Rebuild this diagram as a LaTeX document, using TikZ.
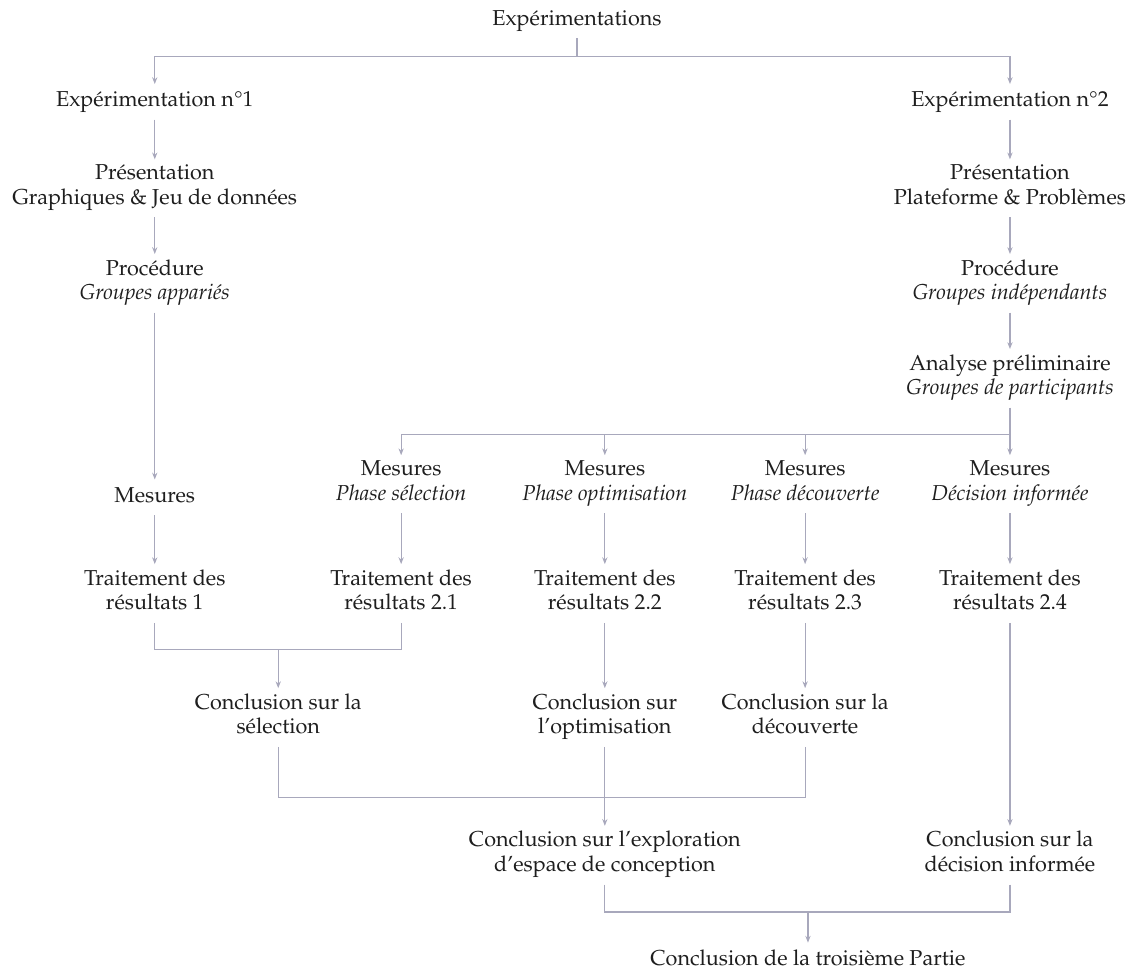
\documentclass[tikz,border=0pt]{standalone}
\usepackage[T1]{fontenc}
\usepackage{textcomp}
\usepackage{mathpazo}
\definecolor{flowgray}{RGB}{168,168,188}
\definecolor{inkgray}{RGB}{30,30,30}
\usetikzlibrary{arrows.meta,positioning,calc}

\begin{document}
\begin{tikzpicture}[
  stage/.style={
    align=center,
    inner xsep=2pt, inner ysep=2.5pt,
    font=\fontsize{10.8}{12.4}\selectfont,
    execute at begin node=\strut,
    execute at end node=\strut,
    text=inkgray
  },
  link/.style={-{Stealth[length=3.4pt,width=2.6pt]}, line width=0.6pt, draw=flowgray},
  wire/.style={line width=0.6pt, draw=flowgray}
]
\useasboundingbox (0,0) rectangle (19.86,-17.12);

% top
\node[stage] (exps) at (10.14,-0.36) {Exp\'erimentations};
\node[stage] (exp1) at (2.72,-1.79)  {Exp\'erimentation n\textdegree1};
\node[stage] (exp2) at (17.75,-1.79) {Exp\'erimentation n\textdegree2};

% first experiment
\node[stage] (pres1) at (2.72,-3.31) {Pr\'esentation\\Graphiques \& Jeu de donn\'ees};
\node[stage] (proc1) at (2.72,-4.98) {Proc\'edure\\\textit{Groupes appari\'es}};
\node[stage] (mes1)  at (2.72,-8.74) {Mesures};
\node[stage] (trt1)  at (2.72,-10.43) {Traitement des\\r\'esultats 1};

% second experiment
\node[stage] (pres2) at (17.75,-3.31) {Pr\'esentation\\Plateforme \& Probl\`emes};
\node[stage] (proc2) at (17.75,-4.98) {Proc\'edure\\\textit{Groupes ind\'ependants}};
\node[stage] (ana)   at (17.75,-6.65) {Analyse pr\'eliminaire\\\textit{Groupes de participants}};

\node[stage] (mes21) at (7.05,-8.51)  {Mesures\\\textit{Phase s\'election}};
\node[stage] (mes22) at (10.63,-8.51) {Mesures\\\textit{Phase optimisation}};
\node[stage] (mes23) at (14.15,-8.51) {Mesures\\\textit{Phase d\'ecouverte}};
\node[stage] (mes24) at (17.75,-8.51) {Mesures\\\textit{D\'ecision inform\'ee}};

\node[stage] (trt21) at (7.05,-10.43)  {Traitement des\\r\'esultats 2.1};
\node[stage] (trt22) at (10.63,-10.43) {Traitement des\\r\'esultats 2.2};
\node[stage] (trt23) at (14.15,-10.43) {Traitement des\\r\'esultats 2.3};
\node[stage] (trt24) at (17.75,-10.43) {Traitement des\\r\'esultats 2.4};

% conclusions
\node[stage] (csel) at (4.89,-12.61)  {Conclusion sur la\\s\'election};
\node[stage] (copt) at (10.63,-12.61) {Conclusion sur\\l'optimisation};
\node[stage] (cdec) at (14.15,-12.61) {Conclusion sur la\\d\'ecouverte};
\node[stage] (cexp) at (10.63,-15.03) {Conclusion sur l'exploration\\d'espace de conception};
\node[stage] (cinf) at (17.75,-15.03) {Conclusion sur la\\d\'ecision inform\'ee};
\node[stage] (cend) at (14.20,-16.88) {Conclusion de la troisi\`eme Partie};

% junctions
\coordinate (j0) at (10.14,-1.00);
\coordinate (j1) at (17.75,-7.63);
\coordinate (j2) at (4.89,-11.42);
\coordinate (j3) at (10.63,-14.02);
\coordinate (j4) at (14.20,-16.03);

\draw[wire] (exps) -- (j0);
\draw[link] (j0) -| (exp1);
\draw[link] (j0) -| (exp2);

\draw[link] (exp1) -- (pres1);
\draw[link] (pres1) -- (proc1);
\draw[link] (proc1) -- (mes1);
\draw[link] (mes1) -- (trt1);

\draw[link] (exp2) -- (pres2);
\draw[link] (pres2) -- (proc2);
\draw[link] (proc2) -- (ana);
\draw[wire] (ana) -- (j1);
\foreach \m in {mes21,mes22,mes23,mes24}
  \draw[link] (j1) -| (\m);

\draw[link] (mes21) -- (trt21);
\draw[link] (mes22) -- (trt22);
\draw[link] (mes23) -- (trt23);
\draw[link] (mes24) -- (trt24);

\draw[wire] (trt1) |- (j2);
\draw[wire] (trt21) |- (j2);
\draw[link] (j2) -- (csel);
\draw[link] (trt22) -- (copt);
\draw[link] (trt23) -- (cdec);
\draw[link] (trt24) -- (cinf);

\draw[wire] (csel) |- (j3);
\draw[wire] (cdec) |- (j3);
\draw[wire] (copt) -- (j3);
\draw[link] (j3) -- (cexp);

\draw[wire] (cexp) |- (j4);
\draw[wire] (cinf) |- (j4);
\draw[link] (j4) -- (cend);
\end{tikzpicture}
\end{document}
